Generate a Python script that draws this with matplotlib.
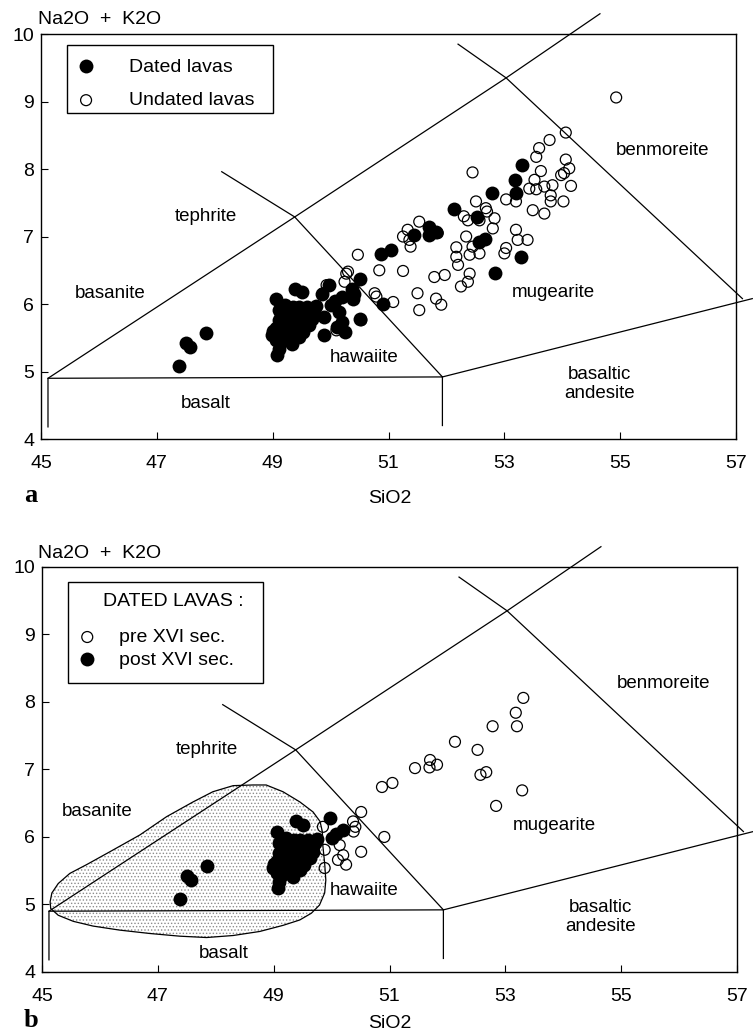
import matplotlib.pyplot as plt
from matplotlib.patches import Polygon, Rectangle

plt.rcParams['font.family'] = ['Liberation Sans', 'DejaVu Sans']
plt.rcParams['hatch.linewidth'] = 0.6

# dated lavas, post XVI century (SiO2, Na2O + K2O)
post_sio2 = [47.38, 47.50, 47.58, 47.84, 49.05, 49.39, 49.50, 49.10, 49.22, 49.33,
             49.45, 49.59, 49.71, 49.68, 49.56, 49.45, 49.33, 49.22, 49.10, 49.16,
             49.28, 49.39, 49.50, 49.62, 48.99, 49.05, 49.22, 49.33, 49.10, 49.07,
             49.45, 49.00, 49.97, 50.08, 50.19, 50.00, 49.15, 49.27, 49.40, 49.55,
             49.66, 49.35, 49.20, 49.40, 49.30, 49.15, 49.05, 49.12, 49.52, 49.75]
post_alk = [5.08, 5.42, 5.36, 5.57, 6.08, 6.23, 6.18, 5.91, 5.98, 5.88,
            5.96, 5.96, 5.91, 5.78, 5.76, 5.73, 5.71, 5.73, 5.76, 5.61,
            5.59, 5.63, 5.66, 5.69, 5.54, 5.46, 5.46, 5.41, 5.34, 5.24,
            5.51, 5.60, 6.28, 6.05, 6.10, 5.98, 5.85, 5.80, 5.80, 5.86,
            5.84, 5.95, 5.65, 5.70, 5.50, 5.50, 5.65, 5.42, 5.58, 5.97]

# dated lavas, pre XVI century
pre_sio2 = [53.31, 53.18, 53.20, 52.78, 52.13, 52.52, 51.70, 51.82, 51.69, 51.44,
            51.05, 50.87, 52.67, 52.57, 53.29, 52.84, 50.91, 50.51, 50.37, 50.41,
            50.38, 50.51, 49.85, 49.88, 49.88, 50.14, 50.20, 50.25, 50.11]
pre_alk = [8.06, 7.84, 7.64, 7.64, 7.41, 7.29, 7.14, 7.07, 7.03, 7.02,
           6.80, 6.74, 6.96, 6.92, 6.69, 6.46, 6.00, 6.37, 6.23, 6.15,
           6.08, 5.78, 6.15, 5.81, 5.54, 5.88, 5.73, 5.59, 5.66]

# undated lavas
undated_sio2 = [54.93, 54.06, 53.78, 53.60, 53.55, 54.06, 54.12, 54.03, 53.98, 54.15,
                54.02, 53.63, 53.52, 53.43, 53.55, 53.69, 53.83, 53.80, 53.80, 53.49,
                53.69, 53.03, 53.20, 52.45, 52.51, 52.68, 52.70, 52.83, 52.57, 52.37,
                52.30, 52.34, 52.45, 52.80, 53.20, 53.23, 53.40, 53.03, 52.17, 51.53,
                51.85, 51.33, 51.36, 51.38, 51.25, 50.84, 51.25, 51.79, 51.97, 52.17,
                52.20, 52.40, 52.37, 52.25, 52.40, 52.57, 53.00, 51.50, 51.53, 51.82,
                51.91, 50.79, 51.08, 50.47, 50.30, 50.27, 49.93, 49.87, 50.24, 50.53,
                50.76, 50.10]
undated_alk = [9.06, 8.54, 8.43, 8.31, 8.18, 8.14, 8.01, 7.94, 7.91, 7.75,
               7.52, 7.97, 7.84, 7.71, 7.70, 7.74, 7.76, 7.61, 7.52, 7.39,
               7.34, 7.55, 7.52, 7.95, 7.52, 7.42, 7.37, 7.27, 7.24, 7.24,
               7.30, 7.00, 6.85, 7.12, 7.10, 6.95, 6.95, 6.83, 6.84, 7.22,
               7.05, 7.10, 6.95, 6.85, 7.00, 6.50, 6.49, 6.40, 6.43, 6.70,
               6.58, 6.45, 6.33, 6.26, 6.73, 6.75, 6.75, 6.16, 5.91, 6.08,
               5.99, 6.11, 6.03, 6.73, 6.48, 6.45, 6.28, 6.16, 6.33, 5.76,
               6.16, 5.61]

# field of the older (pre-historic) lavas, shaded in panel b
field_sio2 = [45.14, 45.17, 45.28, 45.48, 45.77, 46.17, 46.69, 47.15, 47.61, 47.95,
              48.30, 48.64, 48.87, 49.16, 49.45, 49.68, 49.80, 49.84, 49.85, 49.88,
              49.90, 49.88, 49.79, 49.65, 49.45, 49.16, 48.76, 48.30, 47.84, 47.38,
              46.86, 46.34, 45.88, 45.54, 45.28, 45.15]
field_alk = [5.04, 5.17, 5.31, 5.46, 5.59, 5.78, 6.03, 6.30, 6.52, 6.67,
             6.76, 6.77, 6.77, 6.67, 6.52, 6.37, 6.23, 6.08, 5.86, 5.61,
             5.36, 5.17, 4.99, 4.87, 4.77, 4.69, 4.60, 4.54, 4.51, 4.53,
             4.57, 4.62, 4.68, 4.75, 4.84, 4.94]

# TAS field boundaries
boundaries = [
    ([45.12, 45.12, 51.93, 51.93], [4.18, 4.90, 4.92, 4.20]),   # basalt
    ([45.12, 49.38, 53.03, 54.65], [4.90, 7.29, 9.35, 10.30]),  # basanite / tephrite
    ([48.12, 49.38, 51.93], [7.96, 7.29, 4.92]),                 # tephrite / hawaiite
    ([52.20, 53.03, 57.11], [9.85, 9.35, 6.08]),                 # mugearite / benmoreite
    ([51.93, 57.28], [4.92, 6.08]),                              # basaltic andesite
]

field_names = ['tephrite', 'hawaiite', 'mugearite', 'basaltic\nandesite', 'benmoreite']
field_x = [47.85, 50.57, 53.84, 54.65, 55.73]
field_y = [7.29, 5.21, 6.17, 4.82, 8.27]

xticks = [45, 47, 49, 51, 53, 55, 57]
yticks = [4, 5, 6, 7, 8, 9, 10]

fig = plt.figure(figsize=(7.53, 10.34), dpi=100)
ax1 = fig.add_axes([0.0545, 0.5754, 0.923, 0.3917])
ax2 = fig.add_axes([0.0558, 0.0600, 0.923, 0.3917])


def draw_frame(ax, basanite_xy, basalt_xy):
    ax.set_xlim(45, 57)
    ax.set_ylim(4, 10)
    ax.set_xticks(xticks)
    ax.set_yticks(yticks)
    ax.tick_params(direction='in', length=5, width=0.8, labelsize=14)
    ax.tick_params(axis='x', pad=11.5)
    ax.tick_params(axis='y', pad=5)
    for s in ax.spines.values():
        s.set_linewidth(1.0)
    for bx, by in boundaries:
        ax.plot(bx, by, color='black', lw=0.9, clip_on=False, zorder=2)
    names = field_names + ['basanite', 'basalt']
    xs = field_x + [basanite_xy[0], basalt_xy[0]]
    ys = field_y + [basanite_xy[1], basalt_xy[1]]
    for n, x, y in zip(names, xs, ys):
        ax.text(x, y, n, ha='center', va='center', fontsize=13.5, linespacing=1.15)


# panel a: dated vs undated
draw_frame(ax1, (46.2, 6.16), (47.85, 4.52))
dated_x = post_sio2 + pre_sio2
dated_y = post_alk + pre_alk
ax1.scatter(undated_sio2, undated_alk, s=62, facecolors='none', edgecolors='black',
            linewidths=0.9, zorder=3, label='Undated lavas')
ax1.scatter(dated_x, dated_y, s=100, color='black', linewidths=0, zorder=4,
            label='Dated lavas')
h, l = ax1.get_legend_handles_labels()
ax1.legend(h[::-1], l[::-1], loc='upper left', bbox_to_anchor=(0.0508, 0.941),
           frameon=False, borderaxespad=0, borderpad=0, handlelength=1.0,
           handletextpad=1.71, labelspacing=0.83, fontsize=14)
ax1.add_patch(Rectangle((0.0374, 0.8049), 0.2964, 0.1679, transform=ax1.transAxes,
                        fill=False, lw=1.0, ec='black', zorder=5))

# panel b: pre / post XVI century
draw_frame(ax2, (45.96, 6.37), (48.14, 4.28))
ax2.add_patch(Polygon(list(zip(field_sio2, field_alk)), closed=True, facecolor='white',
                      edgecolor='0.55', lw=0, hatch='.....', zorder=1))
ax2.add_patch(Polygon(list(zip(field_sio2, field_alk)), closed=True, fill=False,
                      edgecolor='black', lw=0.9, zorder=2))
ax2.scatter(pre_sio2, pre_alk, s=62, facecolors='none', edgecolors='black',
            linewidths=0.9, zorder=3, label='pre XVI sec.')
ax2.scatter(post_sio2, post_alk, s=100, color='black', linewidths=0, zorder=4,
            label='post XVI sec.')
ax2.legend(loc='upper left', bbox_to_anchor=(0.0511, 0.848),
           frameon=False, borderaxespad=0, borderpad=0, handlelength=1.0,
           handletextpad=1.145, labelspacing=0.25, fontsize=14)
ax2.text(0.088, 0.9147, 'DATED LAVAS :', transform=ax2.transAxes, fontsize=14,
         ha='left', va='center')
ax2.add_patch(Rectangle((0.0374, 0.7143), 0.2806, 0.2494, transform=ax2.transAxes,
                        fill=False, lw=1.0, ec='black', zorder=5))

# axis titles and panel letters
for ytop, ybot in [(19, 499), (553, 1023)]:
    fig.text(38 / 753, 1 - ytop / 1034, 'Na2O  +  K2O', fontsize=14, ha='left', va='center')
    fig.text(390 / 753, 1 - ybot / 1034, 'SiO2', fontsize=14, ha='center', va='center')
fig.text(24 / 753, 1 - 502 / 1034, 'a', fontsize=19, fontweight='bold',
         family='Liberation Serif', ha='left', va='baseline')
fig.text(24 / 753, 1 - 1027 / 1034, 'b', fontsize=19, fontweight='bold',
         family='Liberation Serif', ha='left', va='baseline')

fig.savefig('out.png', dpi=100)
